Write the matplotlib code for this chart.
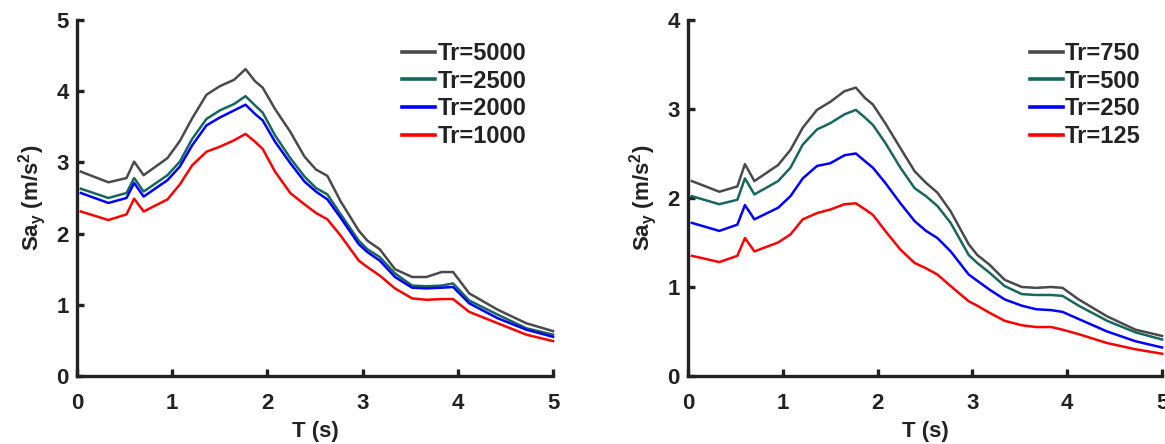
import matplotlib
matplotlib.use("Agg")
import matplotlib.pyplot as plt

# spectral periods (s)
period = [0.04, 0.33, 0.52, 0.60, 0.70, 0.95, 1.08, 1.21, 1.36, 1.50, 1.65, 1.77,
          1.87, 1.95, 2.08, 2.24, 2.39, 2.51, 2.63, 2.77, 2.96, 3.05, 3.18, 3.34,
          3.52, 3.67, 3.83, 3.95, 4.12, 4.42, 4.72, 5.00]

# long return periods
sa_5000 = [2.87, 2.72, 2.78, 3.01, 2.82, 3.06, 3.30, 3.62, 3.95, 4.07, 4.16, 4.31,
           4.14, 4.05, 3.75, 3.43, 3.08, 2.90, 2.81, 2.45, 2.04, 1.90, 1.78, 1.50,
           1.39, 1.39, 1.46, 1.46, 1.16, 0.93, 0.74, 0.63]
sa_2500 = [2.63, 2.50, 2.57, 2.78, 2.59, 2.82, 3.01, 3.33, 3.61, 3.73, 3.82, 3.93,
           3.80, 3.70, 3.38, 3.06, 2.80, 2.64, 2.55, 2.27, 1.90, 1.78, 1.67, 1.44,
           1.27, 1.26, 1.27, 1.30, 1.06, 0.86, 0.67, 0.58]
sa_2000 = [2.57, 2.43, 2.50, 2.71, 2.52, 2.75, 2.94, 3.24, 3.52, 3.63, 3.73, 3.81,
           3.68, 3.59, 3.29, 2.99, 2.73, 2.59, 2.48, 2.22, 1.85, 1.74, 1.62, 1.39,
           1.24, 1.23, 1.24, 1.25, 1.02, 0.81, 0.65, 0.55]
sa_1000 = [2.31, 2.19, 2.27, 2.49, 2.31, 2.48, 2.69, 2.96, 3.15, 3.22, 3.31, 3.40,
           3.29, 3.19, 2.87, 2.57, 2.41, 2.29, 2.20, 1.97, 1.62, 1.53, 1.41, 1.23,
           1.09, 1.07, 1.08, 1.08, 0.90, 0.74, 0.58, 0.49]

# short return periods
sa_750 = [2.19, 2.07, 2.13, 2.38, 2.19, 2.37, 2.54, 2.79, 2.99, 3.08, 3.20, 3.24,
          3.12, 3.05, 2.84, 2.56, 2.30, 2.17, 2.06, 1.85, 1.48, 1.36, 1.25, 1.08,
          1.00, 0.99, 1.00, 0.99, 0.86, 0.67, 0.52, 0.45]
sa_500 = [2.02, 1.93, 1.98, 2.22, 2.04, 2.19, 2.34, 2.60, 2.77, 2.84, 2.94, 2.99,
          2.90, 2.82, 2.62, 2.34, 2.11, 2.02, 1.91, 1.72, 1.36, 1.27, 1.16, 1.01,
          0.92, 0.91, 0.91, 0.90, 0.79, 0.62, 0.49, 0.41]
sa_250 = [1.72, 1.63, 1.70, 1.92, 1.76, 1.89, 2.02, 2.22, 2.36, 2.39, 2.48, 2.50,
          2.41, 2.34, 2.17, 1.94, 1.74, 1.63, 1.55, 1.40, 1.14, 1.07, 0.97, 0.86,
          0.79, 0.75, 0.74, 0.72, 0.64, 0.50, 0.39, 0.32]
sa_125 = [1.35, 1.28, 1.35, 1.55, 1.40, 1.50, 1.59, 1.76, 1.83, 1.87, 1.93, 1.94,
          1.87, 1.81, 1.63, 1.42, 1.27, 1.21, 1.14, 1.01, 0.84, 0.79, 0.71, 0.62,
          0.57, 0.55, 0.55, 0.52, 0.47, 0.37, 0.30, 0.25]

labels_left = ["Tr=5000", "Tr=2500", "Tr=2000", "Tr=1000"]
labels_right = ["Tr=750", "Tr=500", "Tr=250", "Tr=125"]
colors = ["#4a4a4a", "#17675f", "#0000ff", "#ff0000"]

plt.rcParams["font.family"] = "Liberation Sans"
plt.rcParams["font.weight"] = "bold"
plt.rcParams["mathtext.fontset"] = "custom"
plt.rcParams["mathtext.rm"] = "Liberation Sans:bold"
plt.rcParams["mathtext.it"] = "Liberation Sans:bold"
plt.rcParams["mathtext.bf"] = "Liberation Sans:bold"
plt.rcParams["mathtext.default"] = "rm"

fig = plt.figure(figsize=(11.65, 4.44), dpi=100)
ax1 = fig.add_axes([0.0661, 0.1532, 0.4086, 0.8018])
ax2 = fig.add_axes([0.5906, 0.1532, 0.4069, 0.8018])

ink = "#222222"


def style_axes(ax, ymax):
    ax.set_xlim(0, 5)
    ax.set_ylim(0, ymax)
    ax.set_xticks(range(6))
    ax.set_yticks(range(ymax + 1))
    for side in ("top", "right"):
        ax.spines[side].set_visible(False)
    for side in ("left", "bottom"):
        ax.spines[side].set_linewidth(2.4)
        ax.spines[side].set_color(ink)
    ax.tick_params(direction="in", length=5, width=2.4, color=ink,
                   labelsize=16, labelcolor=ink)
    ax.tick_params(axis="x", pad=12)
    ax.tick_params(axis="y", pad=6)
    for lbl in ax.get_xticklabels() + ax.get_yticklabels():
        lbl.set_fontweight("bold")
    ax.set_xlabel("T (s)", fontsize=16, fontweight="bold", color=ink, labelpad=5)
    ax.set_ylabel(r"Sa$_{y}$ (m/s$^{2}$)", fontsize=16, fontweight="bold",
                  color=ink, labelpad=6)


left_series = [sa_5000, sa_2500, sa_2000, sa_1000]
for vals, lab, c in zip(left_series, labels_left, colors):
    ax1.plot(period, vals, color=c, lw=1.8, label=lab, clip_on=False)
style_axes(ax1, 5)

right_series = [sa_750, sa_500, sa_250, sa_125]
for vals, lab, c in zip(right_series, labels_right, colors):
    ax2.plot(period, vals, color=c, lw=1.8, label=lab, clip_on=False)
style_axes(ax2, 4)

for ax, anchor in ((ax1, (0.964, 0.965)), (ax2, (0.975, 0.965))):
    leg = ax.legend(loc="upper right", bbox_to_anchor=anchor, frameon=False,
                    handlelength=1.4, handletextpad=0.1, labelspacing=0.2,
                    borderaxespad=0.0, prop={"size": 17, "weight": "bold"})
    for line in leg.get_lines():
        line.set_linewidth(2.6)
    for t in leg.get_texts():
        t.set_color(ink)

fig.savefig("out.png", dpi=100)
